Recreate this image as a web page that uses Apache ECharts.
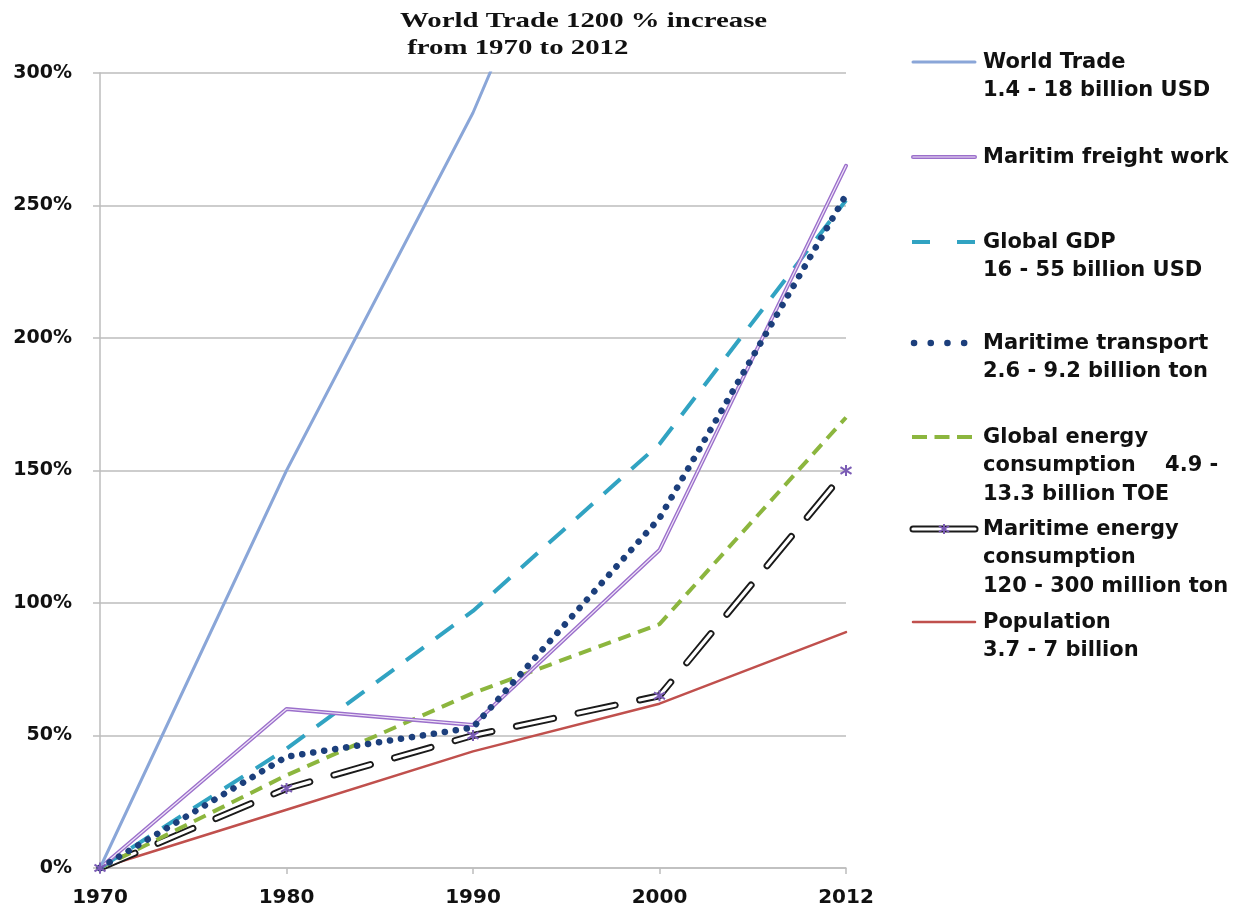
<!DOCTYPE html>
<html>
<head>
<meta charset="utf-8">
<script src="https://cdn.jsdelivr.net/npm/echarts@6/dist/echarts.min.js"></script>
<style>
  html, body { margin: 0; padding: 0; background: #ffffff; }
  #chart { width: 1250px; height: 910px; }
</style>
</head>
<body>
<div id="chart"></div>
<script>
// Years on the category axis
const years = ['1970', '1980', '1990', '2000', '2012'];

// Growth since 1970, in percent
const worldTrade        = [0, 150, 285, 450, 1200];
const freightWork       = [0, 60, 54, 120, 265];
const globalGdp         = [0, 45, 97, 160, 252];
const maritimeTransport = [0, 42, 53, 132, 254];
const energyConsumption = [0, 35, 66, 92, 170];
const maritimeEnergy    = [0, 30, 50, 65, 150];
const population        = [0, 22, 44, 62, 89];

// Y axis ticks
const yTicks = [0, 50, 100, 150, 200, 250, 300];

// Title lines
const titleText = 'World Trade 1200 % increase\n from 1970 to 2012';

// Legend captions (one entry per series)
const legendLabels = [
  'World Trade\n1.4 - 18 billion USD',
  'Maritim freight work',
  'Global GDP\n16 - 55 billion USD',
  'Maritime transport\n2.6 - 9.2 billion ton',
  'Global energy\nconsumption    4.9 -\n13.3 billion TOE',
  'Maritime energy\nconsumption\n120 - 300 million ton',
  'Population\n3.7 - 7 billion'
];

const C = {
  trade: '#8aa6d8',
  freight: '#9b6fcb',
  freightCore: '#efe4f7',
  gdp: '#31a3c2',
  transport: '#1c3f7c',
  energy: '#8cb63e',
  mEnergy: '#1a1a1a',
  star: '#7b5cb5',
  pop: '#c0504d'
};

const LABEL_FONT = 'DejaVu Sans';

// asterisk-like marker
const starPath = 'path://M5,0 L5,10 M0,2 L10,8 M10,2 L0,8';

function line(name, data, lineStyle, extra) {
  return Object.assign({
    name: name,
    type: 'line',
    data: data,
    symbol: 'none',
    smooth: false,
    clip: true,
    silent: true,
    animation: false,
    lineStyle: Object.assign({ cap: 'round', join: 'round' }, lineStyle)
  }, extra || {});
}

const series = [
  line('population', population, { color: C.pop, width: 2.5 }),
  line('maritimeEnergyOutline', maritimeEnergy, { color: C.mEnergy, width: 7, type: [38, 25] }),
  line('maritimeEnergyInner', maritimeEnergy, { color: '#ffffff', width: 3.2, type: [38, 25] }, {
    symbol: starPath, symbolSize: 11, showSymbol: true,
    itemStyle: { color: 'none', borderColor: C.star, borderWidth: 2 }
  }),
  line('energy', energyConsumption, { color: C.energy, width: 4, type: [13, 8], cap: 'butt' }),
  line('gdp', globalGdp, { color: C.gdp, width: 4, type: [22, 15], cap: 'butt' }),
  line('freightOuter', freightWork, { color: C.freight, width: 4 }),
  line('freightInner', freightWork, { color: C.freightCore, width: 1.2 }),
  line('transport', maritimeTransport, { color: C.transport, width: 6.5, type: [0.1, 11] }),
  line('trade', worldTrade, { color: C.trade, width: 3 })
];

// Legend drawn as graphic elements
const legendRows = [
  { y: 62,  draw: [{ color: C.trade, width: 3 }] },
  { y: 157, draw: [{ color: C.freight, width: 4 }, { color: C.freightCore, width: 1.2 }] },
  { y: 242, draw: [{ color: C.gdp, width: 4, dash: [18, 27], cap: 'butt', x0: 912 }] },
  { y: 343, draw: [{ color: C.transport, width: 6.5, dash: [0.1, 16.6], cap: 'round', x0: 914, x1: 965 }] },
  { y: 437, draw: [{ color: C.energy, width: 4, dash: [15, 7.5], cap: 'butt', x0: 912 }] },
  { y: 529, draw: [{ color: C.mEnergy, width: 7 }, { color: '#ffffff', width: 3.2 }], star: true },
  { y: 622, draw: [{ color: C.pop, width: 2.5 }] }
];

const graphic = [];

// title, stretched horizontally like the original artwork
graphic.push({
  type: 'text', silent: true,
  x: 400, y: 8, scaleX: 1.31,
  style: {
    text: titleText,
    font: 'bold 22px "Liberation Serif", serif',
    fill: '#111111',
    lineHeight: 27,
    textVerticalAlign: 'top'
  }
});

legendRows.forEach(function (row, i) {
  row.draw.forEach(function (d) {
    graphic.push({
      type: 'line', silent: true,
      shape: { x1: d.x0 || 913, y1: row.y, x2: d.x1 || 975, y2: row.y },
      style: {
        stroke: d.color, lineWidth: d.width,
        lineDash: d.dash || null, lineCap: d.cap || 'round'
      }
    });
  });
  if (row.star) {
    const cx = 944, cy = row.y;
    [[0, -5, 0, 5], [-5, -3, 5, 3], [5, -3, -5, 3]].forEach(function (s) {
      graphic.push({
        type: 'line', silent: true,
        shape: { x1: cx + s[0], y1: cy + s[1], x2: cx + s[2], y2: cy + s[3] },
        style: { stroke: C.star, lineWidth: 2 }
      });
    });
  }
  graphic.push({
    type: 'text', silent: true,
    x: 983, y: row.y - 14,
    style: {
      text: legendLabels[i],
      font: 'bold 21px "DejaVu Sans", sans-serif',
      fill: '#111111',
      lineHeight: 28.5,
      textVerticalAlign: 'top'
    }
  });
});

const chart = echarts.init(document.getElementById('chart'), null, { renderer: 'canvas' });
chart.setOption({
  backgroundColor: '#ffffff',
  animation: false,
  grid: { left: 100, right: 404, top: 73, bottom: 42, containLabel: false },
  xAxis: {
    type: 'category',
    data: years,
    boundaryGap: false,
    axisLine: { lineStyle: { color: '#bdbdbd', width: 1.5 } },
    axisTick: { show: true, length: 6, alignWithLabel: true, lineStyle: { color: '#bdbdbd', width: 1.5 } },
    axisLabel: {
      margin: 20,
      fontFamily: LABEL_FONT,
      fontWeight: 'bold',
      fontSize: 20,
      color: '#111111'
    },
    splitLine: { show: false }
  },
  yAxis: {
    type: 'value',
    min: yTicks[0],
    max: yTicks[yTicks.length - 1],
    interval: yTicks[1] - yTicks[0],
    axisLine: { show: true, lineStyle: { color: '#bdbdbd', width: 1.5 } },
    axisTick: { show: true, length: 7, lineStyle: { color: '#bdbdbd', width: 1.5 } },
    axisLabel: {
      margin: 28,
      formatter: '{value}%',
      fontFamily: LABEL_FONT,
      fontWeight: 'bold',
      fontSize: 19,
      color: '#111111'
    },
    splitLine: { show: true, lineStyle: { color: '#bdbdbd', width: 1.5 } }
  },
  series: series,
  graphic: graphic
});
</script>
</body>
</html>
